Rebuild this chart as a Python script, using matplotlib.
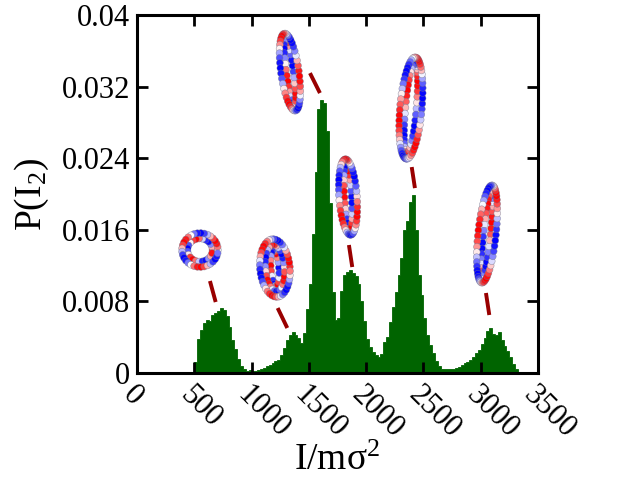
import numpy as np
import matplotlib
matplotlib.use("Agg")
import matplotlib.pyplot as plt

plt.rcParams['font.family'] = ['Liberation Serif', 'DejaVu Serif']
plt.rcParams['mathtext.fontset'] = 'custom'
plt.rcParams['mathtext.rm'] = 'Liberation Serif'
plt.rcParams['mathtext.default'] = 'regular'

# histogram of I (bin width 25, first bin starts at 500)
bin_start = 500
bin_width = 25
p_values = [
    0.0012, 0.0038, 0.0048, 0.0056, 0.0059, 0.0058, 0.0065, 0.0067, 0.0069, 0.0073,
    0.0070, 0.0064, 0.0051, 0.0037, 0.0027, 0.0016, 0.0008, 0.0004, 0.0002, 0.0003,
    0.0002, 0.0002, 0.0003, 0.0004, 0.0006, 0.0008, 0.0009, 0.0011, 0.0013, 0.0015,
    0.0020, 0.0028, 0.0037, 0.0043, 0.0046, 0.0043, 0.0039, 0.0033, 0.0045, 0.0072,
    0.0100, 0.0155, 0.0225, 0.0295, 0.0305, 0.0302, 0.0270, 0.0190, 0.0090, 0.0059,
    0.0062, 0.0092, 0.0109, 0.0113, 0.0115, 0.0112, 0.0108, 0.0100, 0.0080, 0.0058,
    0.0038, 0.0029, 0.0024, 0.0020, 0.0018, 0.0021, 0.0035, 0.0040, 0.0057, 0.0074,
    0.0091, 0.0110, 0.0128, 0.0160, 0.0170, 0.0191, 0.0199, 0.0160, 0.0110, 0.0087,
    0.0062, 0.0042, 0.0031, 0.0022, 0.0013, 0.0008, 0.0005, 0.0004, 0.0004, 0.0004,
    0.0005, 0.0006, 0.0007, 0.0009, 0.0011, 0.0012, 0.0015, 0.0018, 0.0022, 0.0026,
    0.0032, 0.0039, 0.0047, 0.0050, 0.0044, 0.0043, 0.0046, 0.0037, 0.0030, 0.0025,
    0.0018, 0.0010, 0.0004,
]

x_ticks = [0, 500, 1000, 1500, 2000, 2500, 3000, 3500]
y_ticks = [0, 0.008, 0.016, 0.024, 0.032, 0.04]
y_tick_labels = ['0', '0.008', '0.016', '0.024', '0.032', '0.04']

# dashed connectors from molecule snapshots to peaks (data coords)
conn_x0 = [637, 1228, 1510, 1850, 2398, 3046]
conn_y0 = [0.01028, 0.00726, 0.03351, 0.01430, 0.02301, 0.00894]
conn_x1 = [687, 1312, 1597, 1879, 2426, 3075]
conn_y1 = [0.00793, 0.00503, 0.03128, 0.01184, 0.02066, 0.00648]

# snapshot centres (data coords)
mol_x = [550, 1204, 1335, 1842, 2391, 3055]
mol_y = [0.01374, 0.01173, 0.03362, 0.01966, 0.02960, 0.01553]

fig = plt.figure(figsize=(6.4, 4.8), dpi=100)
left, right, bottom, top = 0.214, 0.8406, 0.2229, 0.96875
ax = fig.add_axes([left, bottom, right - left, top - bottom])

edges = bin_start + bin_width * np.arange(len(p_values) + 1)
ax.stairs(p_values, edges, fill=True, facecolor='#006400', edgecolor='#006400', linewidth=0.6)

ax.set_xlim(0, 3500)
ax.set_ylim(0, 0.04)
ax.set_xticks(x_ticks)
ax.set_xticklabels([str(t) for t in x_ticks], rotation=-45, ha='left', va='top',
                   rotation_mode='anchor')
ax.set_yticks(y_ticks)
ax.set_yticklabels(y_tick_labels)
ax.tick_params(direction='in', length=8, width=2, labelsize=22, top=True, right=True, pad=5)
for s in ax.spines.values():
    s.set_linewidth(2.2)

ax.set_xlabel(r'I/m$\sigma^2$', fontsize=27, labelpad=0)
ax.set_ylabel(r'P(I$_2$)', fontsize=27, labelpad=8)

for i in range(len(conn_x0)):
    ax.plot([conn_x0[i], conn_x1[i]], [conn_y0[i], conn_y1[i]], color='#990000',
            linewidth=2.8, solid_capstyle='butt')

# rough bead-loop sketches of the chain snapshots
sx = 3500 / (640 * (right - left))
sy = 0.04 / (480 * (top - bottom))
shapes = [(42, 40, 0), (36, 64, 5), (24, 84, 8), (24, 82, 4), (28, 108, -5), (24, 104, -6)]
cmap = plt.get_cmap('bwr')
for m in range(len(mol_x)):
    w, h, ang = shapes[m]
    a = np.deg2rad(ang)
    offs = [0, 5.5, 11] if m == 1 else [0, 5.5]
    for k, off in enumerate(offs):
        rx, ry = w / 2 - 3 - off, h / 2 - 3 - off
        rx = max(rx, 2.0)
        per = np.pi * (rx + ry) * 1.1
        n = max(int(per / 3.6), 6)
        t = np.linspace(0, 2 * np.pi, n, endpoint=False)
        px = rx * np.cos(t)
        py = ry * np.sin(t)
        qx = px * np.cos(a) - py * np.sin(a)
        qy = px * np.sin(a) + py * np.cos(a)
        v = 0.5 + 0.5 * np.sin(3 * t + m + 2 * k)
        ax.scatter(mol_x[m] + qx * sx, mol_y[m] + qy * sy, s=24, c=cmap(v),
                   edgecolors=(0.45, 0.45, 0.55, 0.7), linewidths=0.4, zorder=5 - k)

fig.savefig('out.png', dpi=100)
